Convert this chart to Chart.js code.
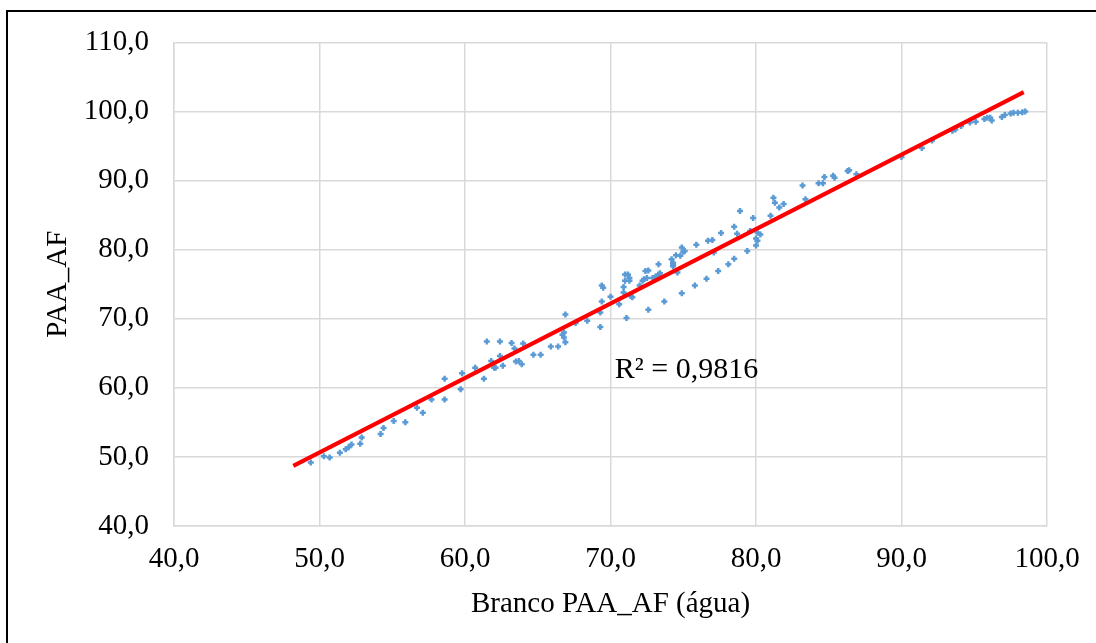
<!DOCTYPE html>
<html lang="pt">
<head>
    <meta charset="UTF-8">
    <title>PAA_AF vs Branco</title>
    <script src="https://cdn.jsdelivr.net/npm/chart.js"></script>
    <style>
        html, body { margin: 0; padding: 0; overflow: hidden; background: #fff; }
        #frame { position: absolute; left: 6px; top: 10px; width: 2000px; height: 2000px; border: 2px solid #000; }
        #wrap { position: absolute; left: 0; top: 0; width: 1096px; height: 643px; }
    </style>
</head>
<body>
    <div id="frame"></div>
    <div id="wrap"><canvas id="chart"></canvas></div>
    <script>
// values
var xVals = [49.4, 50.3, 50.7, 51.4, 51.8, 52.0, 52.2, 52.8, 52.9, 54.2, 54.4, 55.1, 55.9, 56.7, 57.1, 57.7, 58.6, 58.6, 59.7, 59.8,
    60.7, 61.3, 61.5, 61.8, 62.0, 62.1, 62.4, 62.4, 62.6, 63.2, 63.4, 63.5, 63.7, 63.9, 64.0, 64.7, 65.2, 65.9, 66.4,
    66.7, 66.8, 66.8, 66.9, 66.9, 67.6, 68.4, 69.3, 69.3, 69.4, 69.4, 69.5, 70.0, 70.6, 70.9, 70.9, 71.0, 71.0, 71.2, 71.3,
    71.3, 71.1, 71.4, 71.5, 72.0, 72.2, 72.3, 72.4, 72.6, 72.5, 72.6, 72.9, 73.1, 73.3, 73.3, 73.4, 73.7, 74.2, 74.3, 74.3,
    74.3, 74.5, 74.6, 74.8, 74.9, 75.0, 75.1, 74.9, 75.8, 75.9, 76.6, 76.7, 77.0, 77.1, 77.4, 77.6, 78.1, 78.5, 78.5, 78.7,
    78.9, 79.4, 79.6, 79.8, 80.0, 80.0, 80.1, 80.1, 80.3, 81.0, 81.2, 81.3, 81.6, 81.9, 83.2, 83.4, 84.3, 84.6, 84.7, 85.3,
    85.4, 86.3, 86.4, 86.9, 90.0, 91.4, 92.1, 93.5, 93.7, 94.1, 94.7, 95.1, 95.7, 95.9, 96.1, 96.2, 96.9, 97.1, 97.5, 97.7,
    98.0, 98.3, 98.5];
var yVals = [49.2, 50.1, 49.9, 50.6, 51.1, 51.4, 51.8, 51.9, 52.8, 53.3, 54.2, 55.2, 55.0, 57.1, 56.4, 58.3, 58.3, 61.3, 59.8, 62.1,
    62.9, 61.3, 66.7, 63.9, 62.9, 62.9, 66.7, 64.6, 63.2, 66.5, 65.7, 63.8, 63.9, 63.4, 66.4, 64.8, 64.8, 66.0, 66.0,
    67.7, 68.0, 67.3, 66.6, 70.6, 69.4, 69.7, 68.8, 70.9, 72.5, 74.8, 74.5, 73.2, 72.1, 73.8, 74.6, 75.5, 76.4, 76.4, 75.5,
    75.9, 70.1, 73.3, 73.1, 74.8, 75.5, 75.7, 76.9, 77.0, 75.9, 71.3, 75.9, 76.1, 76.4, 77.9, 76.6, 72.5, 78.6, 77.8, 78.1,
    77.6, 79.2, 76.7, 79.1, 80.3, 79.7, 79.8, 73.7, 74.8, 80.7, 75.8, 81.3, 81.4, 79.6, 76.9, 82.4, 77.9, 83.3, 78.7, 82.3,
    85.6, 79.8, 82.7, 84.6, 81.6, 80.6, 81.3, 82.5, 82.2, 84.9, 87.5, 86.8, 86.1, 86.6, 89.3, 87.3, 89.6, 89.6, 90.5, 90.7,
    90.4, 91.4, 91.5, 90.9, 93.4, 94.7, 95.8, 97.2, 97.4, 97.9, 98.4, 98.5, 98.9, 99.1, 99.1, 98.7, 99.2, 99.5, 99.7, 99.8,
    99.8, 99.9, 100.0];

// linear trendline end points
var trendX = [48.2, 98.4];
var trendY = [48.7, 102.8];
var r2Label = 'R² = 0,9816';

var points = xVals.map(function(x, i) { return { x: x, y: yVals[i] }; });
var trend = trendX.map(function(x, i) { return { x: x, y: trendY[i] }; });

var serif = 'Liberation Serif';
function fmt(v) { return v.toFixed(1).replace('.', ','); }

// R² text next to the line
var r2Plugin = {
    id: 'r2',
    afterDatasetsDraw: function(chart) {
        var c = chart.ctx;
        var px = chart.scales.x.getPixelForValue(70.3);
        var py = chart.scales.y.getPixelForValue(62.5);
        c.save();
        c.font = '30px "' + serif + '"';
        c.fillStyle = '#000';
        c.textAlign = 'left';
        c.textBaseline = 'middle';
        c.fillText(r2Label, px, py);
        c.restore();
    }
};

var ctx = document.getElementById('chart').getContext('2d');
var chart = new Chart(ctx, {
    type: 'scatter',
    data: {
        datasets: [{
            label: 'Linear',
            type: 'line',
            data: trend,
            borderColor: '#ff0000',
            borderWidth: 4,
            pointRadius: 0,
            fill: false,
            order: 0
        }, {
            label: 'PAA_AF',
            data: points,
            pointStyle: 'cross',
            pointRadius: 3,
            borderWidth: 2.5,
            borderColor: '#5b9bd5',
            backgroundColor: '#5b9bd5',
            order: 1
        }]
    },
    options: {
        responsive: true,
        maintainAspectRatio: false,
        animation: false,
        layout: { padding: { top: 41, right: 49, left: 0, bottom: 0 } },
        plugins: {
            legend: { display: false },
            tooltip: { enabled: false }
        },
        scales: {
            x: {
                type: 'linear',
                min: 40,
                max: 100,
                afterFit: function(s) { s.height = 117; },
                ticks: {
                    stepSize: 10,
                    padding: 16,
                    color: '#000',
                    font: { family: serif, size: 29 },
                    callback: function(v) { return fmt(v); }
                },
                grid: { color: '#d9d9d9', lineWidth: 1.5, drawTicks: false },
                border: { color: '#d9d9d9', width: 1.5 },
                title: {
                    display: true,
                    text: 'Branco PAA_AF (água)',
                    color: '#000',
                    font: { family: serif, size: 29 },
                    padding: { top: 0, bottom: 21 }
                }
            },
            y: {
                min: 40,
                max: 110,
                afterFit: function(s) { s.width = 174; },
                ticks: {
                    stepSize: 10,
                    padding: 25,
                    color: '#000',
                    font: { family: serif, size: 29 },
                    callback: function(v) { return fmt(v); }
                },
                grid: { color: '#d9d9d9', lineWidth: 1.5, drawTicks: false },
                border: { color: '#d9d9d9', width: 1.5 },
                title: {
                    display: true,
                    text: 'PAA_AF',
                    color: '#000',
                    font: { family: serif, size: 29 },
                    padding: { top: 41, bottom: 0 }
                }
            }
        }
    },
    plugins: [r2Plugin]
});
    </script>
</body>
</html>
